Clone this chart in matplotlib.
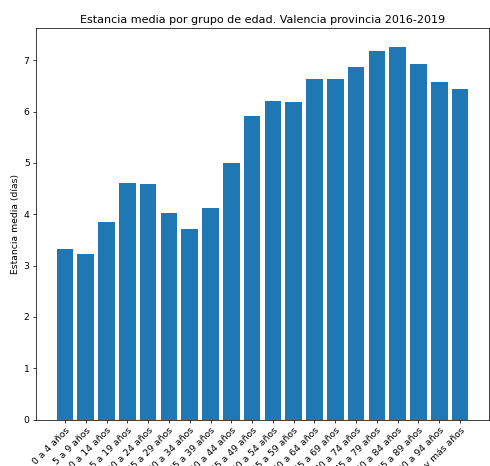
import matplotlib
matplotlib.use('Agg')
import matplotlib.pyplot as plt

grupos = ['0 a 4 años', '5 a 9 años', '10 a 14 años', '15 a 19 años', '20 a 24 años',
          '25 a 29 años', '30 a 34 años', '35 a 39 años', '40 a 44 años', '45 a 49 años',
          '50 a 54 años', '55 a 59 años', '60 a 64 años', '65 a 69 años', '70 a 74 años',
          '75 a 79 años', '80 a 84 años', '85 a 89 años', '90 a 94 años', '95 y más años']
estancia = [3.32, 3.23, 3.85, 4.60, 4.58, 4.02, 3.72, 4.12, 4.99, 5.91,
            6.20, 6.18, 6.64, 6.63, 6.86, 7.19, 7.26, 6.93, 6.57, 6.44]

dpi = 66.5
fig = plt.figure(figsize=(490 / dpi, 466 / dpi), dpi=dpi)
ax = fig.add_axes([36 / 490, 1 - 419.5 / 466, 453 / 490, (419.5 - 28.3) / 466])
ax.bar(grupos, estancia, color='#1f77b4')
ax.set_title('Estancia media por grupo de edad. Valencia provincia 2016-2019')
ax.set_ylabel('Estancia media (días)')
plt.setp(ax.get_xticklabels(), rotation=45, ha='right', rotation_mode='anchor')
fig.savefig('out.png', dpi=dpi)
